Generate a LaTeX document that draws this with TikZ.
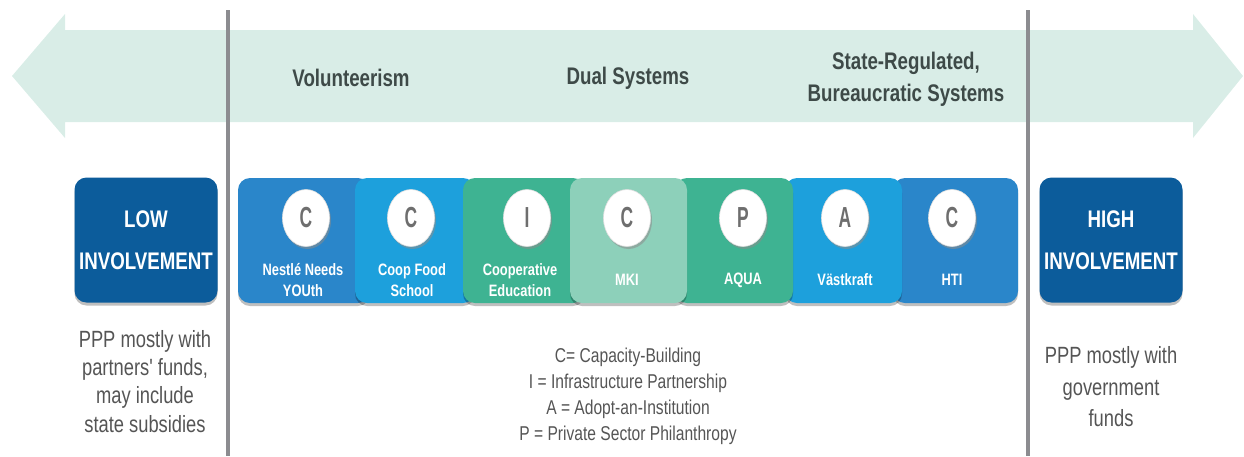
\documentclass[tikz,border=0pt]{standalone}
\usepackage{fontspec}
\setmainfont{Liberation Sans}
\newfontfamily\cond{Liberation Sans}[FakeStretch=0.78]
\newfontfamily\narrowf{Liberation Sans}[FakeStretch=0.6]
\usetikzlibrary{shapes.geometric}
\definecolor{arrowc}{HTML}{D9EDE7}
\definecolor{linec}{HTML}{8C8C90}
\definecolor{headc}{HTML}{3E4A48}
\definecolor{darkb}{HTML}{0C5C9B}
\definecolor{midb}{HTML}{2A86CA}
\definecolor{lightb}{HTML}{1DA0DC}
\definecolor{teal}{HTML}{3EB392}
\definecolor{lteal}{HTML}{8DD0BA}
\definecolor{letc}{HTML}{6E6E6E}
\definecolor{txtc}{HTML}{555555}
\tikzset{
  tile/.style={rectangle, rounded corners=12pt, minimum height=125pt, inner sep=0pt,
    preaction={fill=black, opacity=0.25, transform canvas={yshift=-3pt}}},
  endbox/.style={tile, fill=darkb, minimum width=143pt, align=center, text=white,
    font=\cond\bfseries\fontsize{24}{42}\selectfont},
  disc/.style={ellipse, fill=white, draw=gray!25, line width=0.6pt, minimum width=47pt, minimum height=57pt, inner sep=0pt,
    text=letc, font=\narrowf\bfseries\fontsize{29}{30}\selectfont,
    preaction={fill=black!45, opacity=0.55, transform canvas={xshift=1.5pt,yshift=-2.5pt}}},
  tlabel/.style={text=white, align=center, inner sep=0pt, font=\cond\bfseries\fontsize{16.5}{21}\selectfont},
  head/.style={text=headc, align=center, inner sep=0pt, font=\cond\bfseries\fontsize{24}{32}\selectfont},
  body/.style={text=txtc, anchor=base, inner sep=0pt, font=\cond\fontsize{23.5}{28}\selectfont},
  legend/.style={text=txtc, anchor=base, inner sep=0pt, font=\cond\fontsize{20}{24}\selectfont},
  divider/.style={draw=linec, line width=4pt}
}
\begin{document}
\begin{tikzpicture}[x=1pt,y=-1pt]
\useasboundingbox (0,0) rectangle (1244,456);
% big double arrow
\fill[arrowc] (12,76) -- (65,14) -- (65,30) -- (1193,30) -- (1193,14) -- (1243,76)
  -- (1193,138) -- (1193,122) -- (65,122) -- (65,138) -- cycle;
% dividers
\coordinate (l1) at (228,10); \coordinate (l2) at (228,456);
\coordinate (r1) at (1028,10); \coordinate (r2) at (1028,456);
\draw[divider] (l1) -- (l2);
\draw[divider] (r1) -- (r2);
% headings
\node[head] (vol) at (351,78) {Volunteerism};
\node[head] (dual) at (628,78) {Dual Systems};
\node[head] (state) at (906,79) {State-Regulated,\\Bureaucratic Systems};
% end boxes
\node[endbox] (low) at (146,240) {LOW\\INVOLVEMENT};
\node[endbox] (high) at (1111,240) {HIGH\\INVOLVEMENT};
% tiles
\node[tile, fill=midb, minimum width=132pt] (t1) at (304,240.5) {};
\node[tile, fill=lightb, minimum width=120pt] (t2) at (415,240.5) {};
\node[tile, fill=teal, minimum width=122pt] (t3) at (524,240.5) {};
\node[tile, fill=midb, minimum width=125pt] (t7) at (955.5,240.5) {};
\node[tile, fill=lightb, minimum width=117pt] (t6) at (843.5,240.5) {};
\node[tile, fill=teal, minimum width=118pt] (t5) at (734,240.5) {};
\node[tile, fill=lteal, minimum width=117pt] (t4) at (628.5,240.5) {};
% discs
\node[disc] (c1) at (306,218) {C};
\node[disc] (c2) at (411,218) {C};
\node[disc] (c3) at (527,218) {I};
\node[disc] (c4) at (627,218) {C};
\node[disc] (c5) at (743,218) {P};
\node[disc] (c6) at (845,218) {A};
\node[disc] (c7) at (952,218) {C};
% tile labels
\node[tlabel] (n1) at (303,280) {Nestlé Needs\\YOUth};
\node[tlabel] (n2) at (412,280) {Coop Food\\School};
\node[tlabel] (n3) at (520,280) {Cooperative\\Education};
\node[tlabel] (n4) at (627,280) {MKI};
\node[tlabel] (n5) at (743,280) {AQUA};
\node[tlabel] (n6) at (845,280) {Västkraft};
\node[tlabel] (n7) at (952,280) {HTI};
% left text
\node[body] (lt1) at (145,347) {PPP mostly with};
\node[body] (lt2) at (145,375) {partners' funds,};
\node[body] (lt3) at (145,403) {may include};
\node[body] (lt4) at (145,432) {state subsidies};
% legend
\node[legend] (lg1) at (628,362) {C= Capacity-Building};
\node[legend] (lg2) at (628,388) {I = Infrastructure Partnership};
\node[legend] (lg3) at (628,414) {A = Adopt-an-Institution};
\node[legend] (lg4) at (628,440) {P = Private Sector Philanthropy};
% right text
\node[body] (rt1) at (1111,363) {PPP mostly with};
\node[body] (rt2) at (1111,395) {government};
\node[body] (rt3) at (1111,426) {funds};
\end{tikzpicture}
\end{document}
